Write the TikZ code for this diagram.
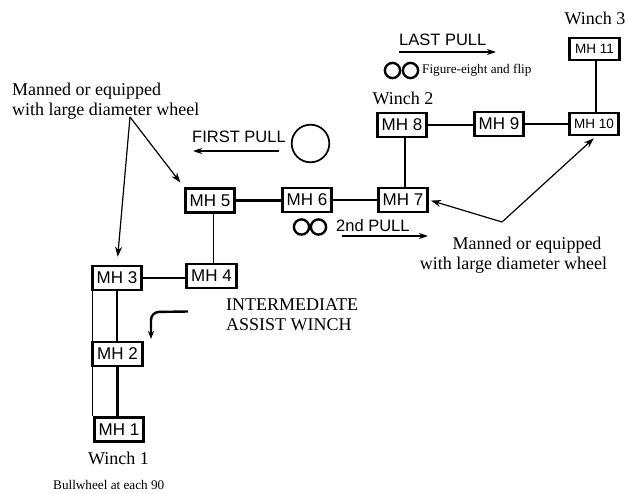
\documentclass[tikz,border=0pt]{standalone}
\usepackage{fontspec}
\setmainfont{Liberation Serif}
\newfontfamily\arialf{Liberation Sans}
\usetikzlibrary{arrows.meta}
\begin{document}
\begin{tikzpicture}[x=1pt,y=-1pt,
  mh/.style={draw,line width=2.6pt,minimum width=49.5pt,minimum height=24pt,inner sep=0pt,
    font=\arialf\fontsize{17}{19}\selectfont},
  mhs/.style={mh,minimum height=22pt,font=\arialf\fontsize{13.5}{15}\selectfont},
  pipe/.style={line width=2.6pt},
  midpipe/.style={line width=1.8pt},
  thinpipe/.style={line width=1pt},
  callout/.style={line width=1.2pt,-{Stealth[length=10pt,width=7pt]}},
  pullarr/.style={line width=2pt,-{Stealth[length=9pt,width=6pt]}},
  serif/.style={font=\fontsize{18}{20}\selectfont,inner sep=0pt},
  smallserif/.style={font=\fontsize{13.2}{15}\selectfont,inner sep=0pt},
  sanslbl/.style={font=\arialf\fontsize{16.5}{18}\selectfont,inner sep=0pt},
  loop8/.style={line width=2.4pt}
]
\useasboundingbox (0,0) rectangle (629,493);

% manholes
\node[mh]  (MH1)  at (119,429.5) {MH 1};
\node[mh]  (MH2)  at (117.5,354) {MH 2};
\node[mh]  (MH3)  at (117,278)   {MH 3};
\node[mh]  (MH4)  at (211.5,276) {MH 4};
\node[mh]  (MH5)  at (210,200.5) {MH 5};
\node[mh]  (MH6)  at (307,200)   {MH 6};
\node[mh]  (MH7)  at (403,200)   {MH 7};
\node[mh]  (MH8)  at (402,125)   {MH 8};
\node[mh]  (MH9)  at (499,124)   {MH 9};
\node[mhs] (MH10) at (594,124)   {MH 10};
\node[mhs] (MH11) at (594.5,49)  {MH 11};

% conduit runs
\draw[pipe] (MH2.south) -- (MH2.south |- MH1.north);
\draw[pipe] (MH3.south) -- (MH3.south |- MH2.north);
\draw[thinpipe] ([xshift=1.5pt]MH3.south west) -- ([xshift=1.5pt]MH3.south west |- MH1.north);
\draw[midpipe] (MH3.east) -- (MH3.east -| MH4.west);
\draw[thinpipe] ([xshift=1.5pt]MH4.north) -- ([xshift=1.5pt]MH4.north |- MH5.south);
\draw[pipe] (MH5.east) -- (MH5.east -| MH6.west);
\draw[pipe] (MH6.east) -- (MH6.east -| MH7.west);
\draw[pipe] ([xshift=3pt]MH8.south) -- ([xshift=3pt]MH8.south |- MH7.north);
\draw[pipe] (MH8.east) -- (MH8.east -| MH9.west);
\draw[pipe] (MH9.east) -- (MH9.east -| MH10.west);
\draw[pipe] ([xshift=2pt]MH10.north) -- ([xshift=2pt]MH10.north |- MH11.south);

% winch labels
\node[serif,anchor=base] (w1) at (118.5,464) {Winch 1};
\node[serif,anchor=base] (w2) at (403,104) {Winch 2};
\node[serif,anchor=base] (w3) at (595,24) {Winch 3};

% left callout
\node[serif,anchor=base west] (ml1) at (12,95) {Manned or equipped};
\node[serif,anchor=base west] (ml2) at (12,115) {with large diameter wheel};
\coordinate (apexL) at (130,117);
\draw[callout,shorten >=6pt] (apexL) -- (MH5.north west);
\draw[callout,shorten >=8pt] (apexL) -- (MH3.north);

% right callout
\node[serif,anchor=base] (mr1) at (527,249) {Manned or equipped};
\node[serif,anchor=base] (mr2) at (513.5,269) {with large diameter wheel};
\coordinate (apexR) at (502,222);
\draw[callout,shorten >=2pt] (apexR) -- (MH7.east);
\draw[callout,shorten >=3pt] (apexR) -- ([xshift=2pt]MH10.south);

% first pull
\node[sanslbl,anchor=base west] (fp) at (192,142) {FIRST PULL};
\coordinate (fpA) at (279,151);
\coordinate (fpB) at (193,151);
\draw[pullarr] (fpA) -- (fpB);
\draw[line width=1.7pt] (310.5,143.5) circle[radius=18.8];

% second pull
\draw[loop8] (301.5,227) circle[radius=7.6];
\draw[loop8] (318.5,227) circle[radius=7.6];
\node[sanslbl,anchor=base west] (sp) at (336,231) {2nd PULL};
\coordinate (spA) at (342,236);
\coordinate (spB) at (428,236);
\draw[pullarr] (spA) -- (spB);

% last pull
\node[sanslbl,anchor=base west] (lp) at (399,45.5) {LAST PULL};
\coordinate (lpA) at (399,52);
\coordinate (lpB) at (496,52);
\draw[pullarr] (lpA) -- (lpB);
\draw[loop8] (392.5,70.5) circle[radius=7.6];
\draw[loop8] (410.5,70.5) circle[radius=7.6];
\node[smallserif,anchor=base west] (f8) at (422,73) {Figure-eight and flip};

% intermediate assist winch
\node[serif,anchor=base west] (iw1) at (226,310) {INTERMEDIATE};
\node[serif,anchor=base west] (iw2) at (226,330) {ASSIST WINCH};
\coordinate (iwA) at (188,311.5);
\coordinate (iwB) at (151,312);
\coordinate (iwC) at (151,339);
\draw[line width=2.4pt,rounded corners=8pt,-{Stealth[length=8pt,width=6pt]}] (iwA) -- (iwB) -- (iwC);

% note
\node[smallserif,anchor=base west] (bw) at (53,489.5) {Bullwheel at each 90};
\end{tikzpicture}
\end{document}
